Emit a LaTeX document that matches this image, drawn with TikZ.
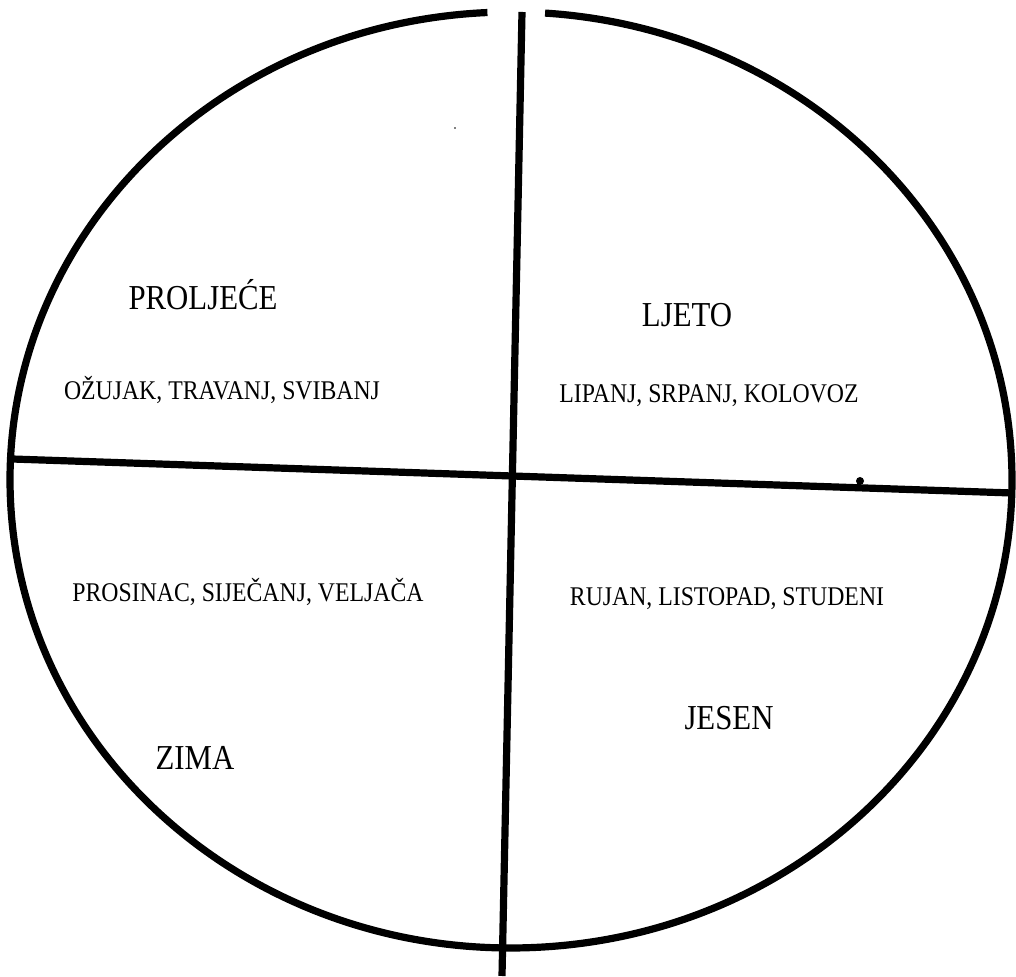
\documentclass[tikz,border=0pt]{standalone}
\usepackage{fontspec}
\newfontfamily\lblfont[FakeStretch=0.88]{Liberation Serif}
\begin{document}
\begin{tikzpicture}[x=1pt,y=1pt,
  stroke/.style={line width=7.2pt,black},
  season/.style={font=\lblfont\fontsize{35}{40}\selectfont,anchor=base,inner sep=0pt},
  months/.style={font=\lblfont\fontsize{27}{32}\selectfont,anchor=base,inner sep=0pt}]
\useasboundingbox (0,0) rectangle (1016,976);
% coordinates (Y = 976 - image y)
\coordinate (c) at (511,496);
\coordinate (vtop) at (522,964);
\coordinate (vbot) at (502,0);
\coordinate (hleft) at (12,517);
\coordinate (hright) at (1012,483);
% circle (ellipse) with the small gap at the top
\draw[stroke] (c) ++(92.7:501 and 468) arc[start angle=92.7,end angle=446.1,x radius=501,y radius=468];
% dividing lines
\draw[stroke] (vtop) -- (vbot);
\draw[stroke] (hleft) -- (hright);
\fill (860,495) circle (4);
\fill (455,848) circle (0.8);
% labels
\node[season] (proljece) at (203,666) {PROLJEĆE};
\node[months] (proljeceM) at (222,576) {OŽUJAK, TRAVANJ, SVIBANJ};
\node[season] (ljeto) at (687,649) {LJETO};
\node[months] (ljetoM) at (709,573) {LIPANJ, SRPANJ, KOLOVOZ};
\node[months] (zimaM) at (248,374) {PROSINAC, SIJEČANJ, VELJAČA};
\node[season] (zima) at (195,206) {ZIMA};
\node[months] (jesenM) at (727,370) {RUJAN, LISTOPAD, STUDENI};
\node[season] (jesen) at (729,246) {JESEN};
\end{tikzpicture}
\end{document}
